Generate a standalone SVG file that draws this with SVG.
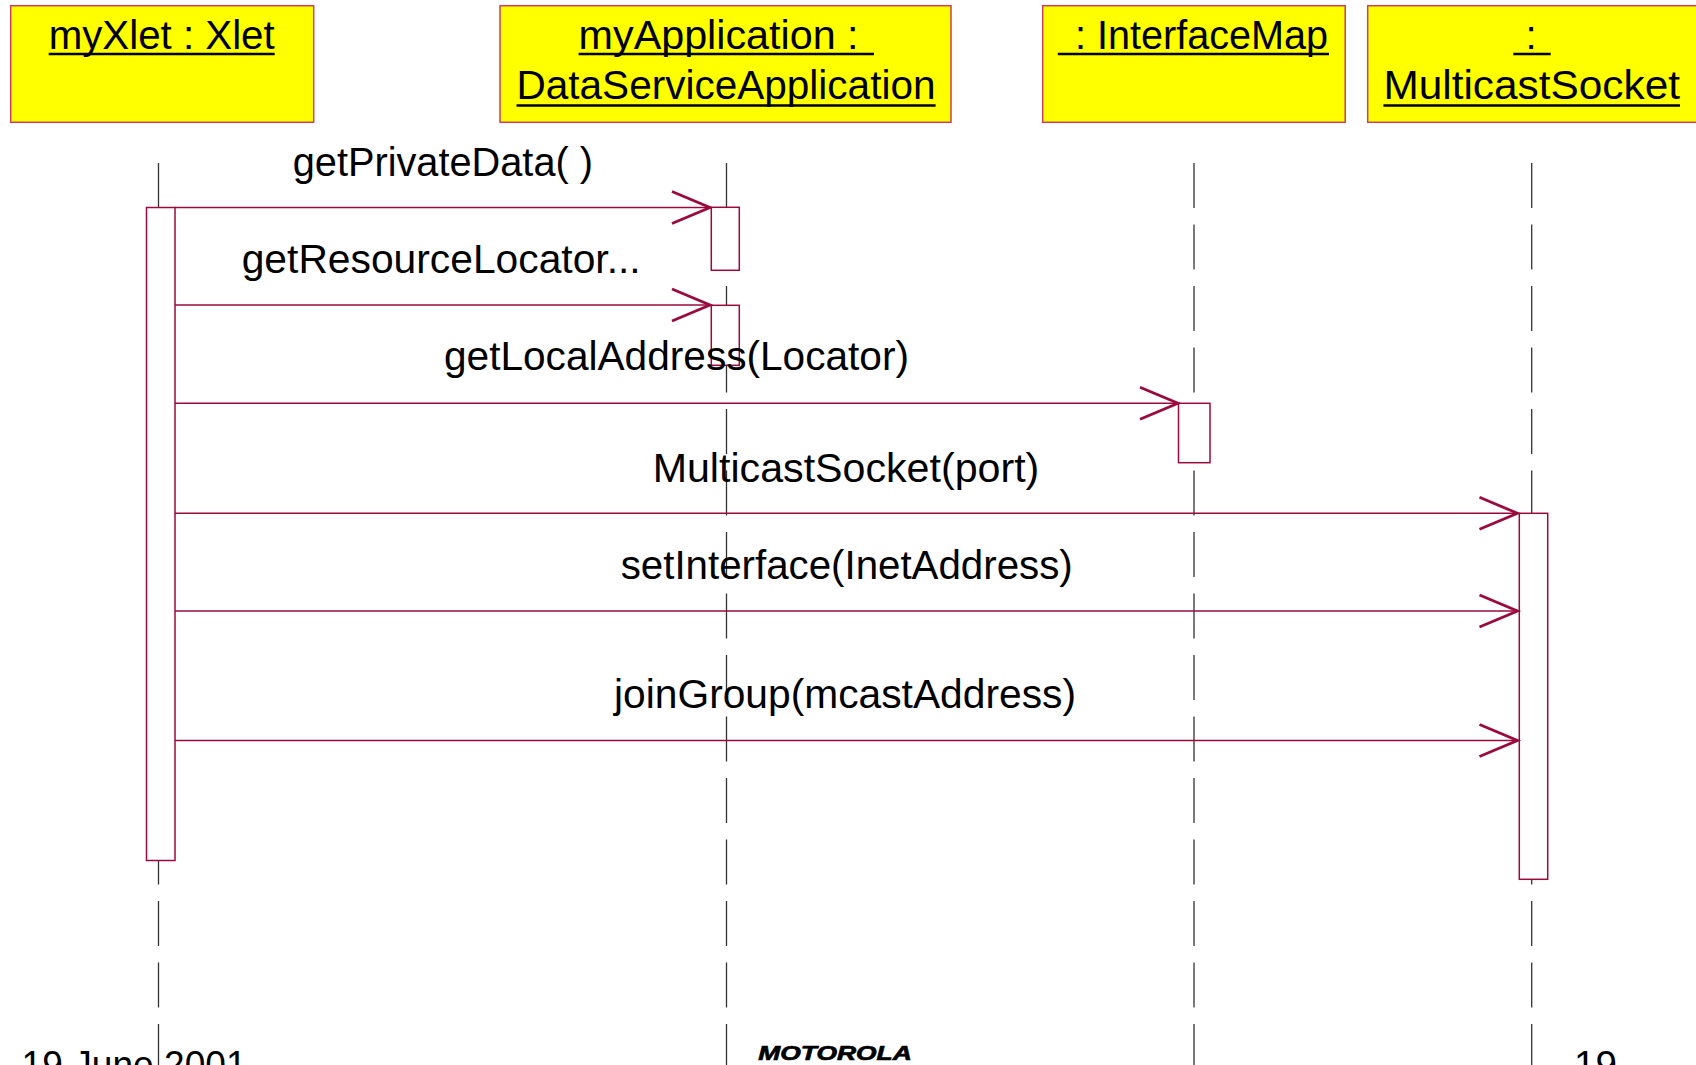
<svg xmlns="http://www.w3.org/2000/svg" width="1696" height="1065" viewBox="0 0 1696 1065">
  <style>
    .obj { fill: #FFFF00; stroke: #C8405A; stroke-width: 1.5; }
    .lbl { font-family: "Liberation Sans", Arial, sans-serif; font-size: 40px; fill: #000; }
    .ul { stroke: #000; stroke-width: 2.7; }
    .life { stroke: #333; stroke-width: 1.3; stroke-dasharray: 45 16.5; fill: none; }
    .act { fill: #FFFFFF; stroke: #9B0A3C; stroke-width: 1.5; }
    .msg { stroke: #9B0A3C; stroke-width: 1.6; fill: none; marker-end: url(#open); }
    .foot { font-family: "Liberation Sans", Arial, sans-serif; font-size: 38px; fill: #000; }
    .logo { font-family: "Liberation Sans", Arial, sans-serif; font-size: 21px; font-weight: bold; font-style: italic; fill: #000; stroke: #000; stroke-width: 0.7; }
  </style>
  <defs>
    <marker id="open" markerUnits="userSpaceOnUse" markerWidth="60" markerHeight="60" viewBox="-50 -30 60 60" refX="0" refY="0" orient="auto" overflow="visible">
      <path d="M-38,-16 L0,0 L-38,16" fill="none" stroke="#9B0A3C" stroke-width="2.8" stroke-linejoin="miter"/>
    </marker>
  </defs>
  <rect width="1696" height="1065" fill="#FFFFFF"/>

  <!-- Objects -->
  <g id="node-myXlet">
    <rect class="obj" x="10.7" y="5.7" width="303" height="116.6"/>
    <text class="lbl" x="48.7" y="49" textLength="226" lengthAdjust="spacingAndGlyphs">myXlet : Xlet</text>
    <line class="ul" x1="48.7" y1="54" x2="274.7" y2="54"/>
  </g>
  <g id="node-myApplication">
    <rect class="obj" x="500" y="5.7" width="451" height="116.6"/>
    <text class="lbl" x="578.6" y="49" textLength="280" lengthAdjust="spacingAndGlyphs">myApplication :</text>
    <line class="ul" x1="578.6" y1="54" x2="874" y2="54"/>
    <text class="lbl" x="516.5" y="99" textLength="419" lengthAdjust="spacingAndGlyphs">DataServiceApplication</text>
    <line class="ul" x1="516.5" y1="105.5" x2="935.6" y2="105.5"/>
  </g>
  <g id="node-interfaceMap">
    <rect class="obj" x="1042.7" y="5.7" width="302.5" height="116.6"/>
    <text class="lbl" x="1075" y="49" textLength="253" lengthAdjust="spacingAndGlyphs">: InterfaceMap</text>
    <line class="ul" x1="1057.8" y1="54" x2="1329" y2="54"/>
  </g>
  <g id="node-multicastSocket">
    <rect class="obj" x="1367.7" y="5.7" width="340" height="116.6"/>
    <text class="lbl" x="1531" y="49" text-anchor="middle">:</text>
    <line class="ul" x1="1513.3" y1="54" x2="1550.7" y2="54"/>
    <text class="lbl" x="1383.4" y="99" textLength="296.6" lengthAdjust="spacingAndGlyphs">MulticastSocket</text>
    <line class="ul" x1="1383.4" y1="105.5" x2="1680" y2="105.5"/>
  </g>

  <!-- Lifelines -->
  <g id="lifelines">
    <line class="life" x1="158.5" y1="163" x2="158.5" y2="1065"/>
    <line class="life" x1="726.5" y1="163" x2="726.5" y2="1065"/>
    <line class="life" x1="1194" y1="163" x2="1194" y2="1065"/>
    <line class="life" x1="1531.7" y1="163" x2="1531.7" y2="1065"/>
  </g>

  <!-- Activations -->
  <g id="activations">
    <rect class="act" x="146.5" y="207.5" width="28.5" height="653"/>
    <rect class="act" x="711.3" y="207.3" width="28" height="63"/>
    <rect class="act" x="711.3" y="305.3" width="28" height="60"/>
    <rect class="act" x="1178.5" y="403.3" width="31.5" height="59.4"/>
    <rect class="act" x="1519.3" y="513.3" width="28.4" height="366"/>
  </g>

  <!-- Connectors -->
  <g id="connectors">
    <line class="msg" x1="175" y1="207.5" x2="710" y2="207.5"/>
    <line class="msg" x1="175" y1="305" x2="710" y2="305"/>
    <line class="msg" x1="175" y1="403.3" x2="1178" y2="403.3"/>
    <line class="msg" x1="175" y1="513.3" x2="1517.5" y2="513.3"/>
    <line class="msg" x1="175" y1="611" x2="1517.5" y2="611"/>
    <line class="msg" x1="175" y1="740.5" x2="1517.5" y2="740.5"/>
  </g>

  <!-- Message labels -->
  <g id="message-labels">
    <text class="lbl" x="292.7" y="176" textLength="300.3" lengthAdjust="spacingAndGlyphs">getPrivateData( )</text>
    <text class="lbl" x="241.7" y="272.5" textLength="399" lengthAdjust="spacingAndGlyphs">getResourceLocator...</text>
    <text class="lbl" x="444" y="369.5" textLength="465" lengthAdjust="spacingAndGlyphs">getLocalAddress(Locator)</text>
    <text class="lbl" x="652.7" y="482" textLength="386.6" lengthAdjust="spacingAndGlyphs">MulticastSocket(port)</text>
    <text class="lbl" x="620.7" y="579" textLength="452" lengthAdjust="spacingAndGlyphs">setInterface(InetAddress)</text>
    <text class="lbl" x="614" y="707.5" textLength="462" lengthAdjust="spacingAndGlyphs">joinGroup(mcastAddress)</text>
  </g>

  <!-- Footer -->
  <g id="footer">
    <text class="foot" x="21.6" y="1078" textLength="225" lengthAdjust="spacingAndGlyphs">19 June 2001</text>
    <text class="logo" x="758.3" y="1059.5" textLength="153.4" lengthAdjust="spacingAndGlyphs">MOTOROLA</text>
    <text class="foot" x="1574" y="1078" textLength="43" lengthAdjust="spacingAndGlyphs">19</text>
  </g>
</svg>
